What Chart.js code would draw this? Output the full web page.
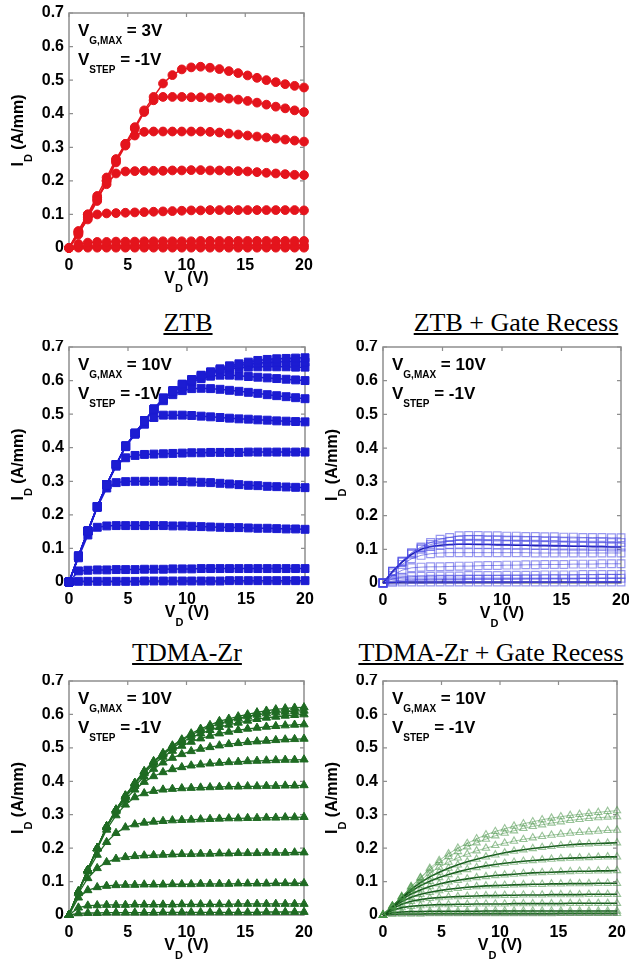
<!DOCTYPE html>
<html>
<head>
<meta charset="utf-8">
<script src="https://cdn.jsdelivr.net/npm/chart.js@4.4.0/dist/chart.umd.min.js"></script>
<style>
  body { margin: 0; background: #fff; }
  #page { position: relative; width: 629px; height: 961px; overflow: hidden; }
  canvas { position: absolute; }
  .title {
    position: absolute; width: 400px; text-align: center;
    font: 26px "Liberation Serif", "Times New Roman", serif; line-height: 26px;
    color: #000; text-decoration: underline; text-decoration-thickness: 1.5px;
    text-underline-offset: 2px; white-space: nowrap;
  }
</style>
</head>
<body>
<div id="page"></div>
<script>
// 漏极电压 (V)
const vd = [0, 0.8, 1.6, 2.4, 3.2, 4, 4.8, 5.6, 6.4, 7.2, 8, 8.8, 9.6, 10.4, 11.2, 12, 12.8, 13.6, 14.4, 15.2, 16, 16.8, 17.6, 18.4, 19.2, 20];
const xTicks = [0, 5, 10, 15, 20];
const yTicks = [0, 0.1, 0.2, 0.3, 0.4, 0.5, 0.6, 0.7];

const titles = ['', 'ZTB', 'ZTB + Gate Recess', 'TDMA-Zr', 'TDMA-Zr + Gate Recess'];
const vgMax = ['3V', '10V', '10V', '10V', '10V'];
const vStep = ['-1V', '-1V', '-1V', '-1V', '-1V'];

// 红色 (VG,MAX = 3V)
const redCurves = [
  [0,0.04,0.09,0.14,0.2,0.26,0.31,0.36,0.41,0.45,0.49,0.515,0.532,0.538,0.54,0.537,0.533,0.527,0.521,0.514,0.507,0.5,0.494,0.488,0.483,0.478],
  [0,0.045,0.095,0.145,0.2,0.255,0.305,0.355,0.405,0.44,0.45,0.45,0.45,0.449,0.449,0.448,0.447,0.445,0.442,0.438,0.433,0.427,0.421,0.416,0.41,0.405],
  [0,0.05,0.1,0.155,0.21,0.265,0.31,0.335,0.346,0.347,0.347,0.347,0.347,0.347,0.347,0.346,0.344,0.341,0.338,0.335,0.332,0.329,0.326,0.323,0.32,0.317],
  [0,0.05,0.1,0.15,0.19,0.222,0.228,0.229,0.23,0.23,0.23,0.231,0.231,0.232,0.232,0.231,0.231,0.23,0.229,0.228,0.226,0.224,0.222,0.22,0.218,0.217],
  [0,0.045,0.085,0.1,0.103,0.104,0.105,0.106,0.107,0.108,0.109,0.11,0.111,0.112,0.112,0.113,0.113,0.113,0.113,0.113,0.113,0.113,0.113,0.113,0.113,0.112],
  [0,0.012,0.016,0.018,0.018,0.019,0.019,0.019,0.02,0.02,0.02,0.02,0.02,0.02,0.021,0.021,0.021,0.021,0.021,0.021,0.021,0.021,0.021,0.021,0.021,0.021],
  [0,0.004,0.006,0.006,0.007,0.007,0.007,0.007,0.008,0.008,0.008,0.008,0.008,0.008,0.008,0.008,0.008,0.008,0.008,0.008,0.008,0.008,0.008,0.008,0.008,0.008],
  [0,0.001,0.001,0.001,0.001,0.001,0.001,0.001,0.001,0.001,0.001,0.001,0.001,0.001,0.001,0.001,0.001,0.001,0.001,0.001,0.001,0.001,0.001,0.001,0.001,0.001]
];

// ZTB
const ztbCurves = [
  [0,0.077,0.152,0.225,0.29,0.35,0.405,0.443,0.48,0.515,0.548,0.57,0.589,0.603,0.616,0.626,0.635,0.644,0.65,0.655,0.66,0.663,0.665,0.666,0.667,0.668],
  [0,0.077,0.152,0.225,0.29,0.35,0.405,0.443,0.48,0.515,0.548,0.57,0.589,0.603,0.615,0.625,0.633,0.64,0.645,0.649,0.652,0.654,0.655,0.656,0.656,0.655],
  [0,0.077,0.152,0.225,0.29,0.35,0.405,0.443,0.48,0.515,0.547,0.569,0.587,0.6,0.612,0.622,0.63,0.635,0.638,0.64,0.641,0.641,0.641,0.641,0.64,0.64],
  [0,0.077,0.152,0.225,0.29,0.35,0.405,0.443,0.48,0.515,0.545,0.566,0.582,0.596,0.606,0.613,0.616,0.616,0.614,0.612,0.61,0.608,0.606,0.604,0.602,0.6],
  [0,0.077,0.152,0.225,0.29,0.35,0.405,0.443,0.48,0.513,0.54,0.558,0.57,0.576,0.577,0.576,0.574,0.571,0.568,0.565,0.562,0.558,0.555,0.552,0.549,0.546],
  [0,0.077,0.152,0.225,0.29,0.35,0.403,0.44,0.47,0.49,0.497,0.497,0.497,0.496,0.494,0.492,0.49,0.488,0.486,0.485,0.483,0.482,0.48,0.479,0.478,0.477],
  [0,0.077,0.152,0.225,0.29,0.345,0.37,0.377,0.38,0.381,0.382,0.383,0.384,0.385,0.385,0.386,0.386,0.386,0.386,0.387,0.387,0.387,0.387,0.387,0.387,0.387],
  [0,0.075,0.15,0.222,0.28,0.296,0.299,0.3,0.3,0.3,0.3,0.3,0.299,0.298,0.297,0.296,0.294,0.292,0.29,0.288,0.287,0.285,0.284,0.283,0.282,0.281],
  [0,0.072,0.14,0.163,0.167,0.168,0.168,0.168,0.168,0.168,0.168,0.167,0.167,0.166,0.165,0.164,0.163,0.162,0.162,0.161,0.16,0.16,0.159,0.158,0.158,0.157],
  [0,0.033,0.035,0.036,0.036,0.037,0.037,0.037,0.038,0.038,0.038,0.039,0.039,0.039,0.04,0.04,0.04,0.04,0.04,0.04,0.04,0.04,0.04,0.04,0.04,0.04],
  [0,0.002,0.002,0.002,0.002,0.002,0.002,0.002,0.003,0.003,0.003,0.003,0.003,0.003,0.003,0.003,0.003,0.004,0.004,0.004,0.004,0.004,0.004,0.004,0.004,0.004]
];

// ZTB + Gate Recess
const ztbRecessCurves = [
  [0,0.035,0.065,0.09,0.107,0.12,0.13,0.135,0.14,0.141,0.141,0.14,0.14,0.139,0.139,0.138,0.138,0.137,0.137,0.136,0.136,0.135,0.135,0.135,0.134,0.134],
  [0,0.035,0.064,0.088,0.104,0.114,0.12,0.124,0.127,0.128,0.128,0.127,0.127,0.126,0.126,0.125,0.125,0.124,0.124,0.123,0.122,0.122,0.121,0.121,0.12,0.12],
  [0,0.034,0.062,0.085,0.1,0.108,0.112,0.114,0.115,0.115,0.114,0.114,0.113,0.113,0.112,0.112,0.111,0.111,0.11,0.11,0.109,0.109,0.108,0.108,0.107,0.107],
  [0,0.03,0.055,0.072,0.082,0.087,0.089,0.09,0.09,0.09,0.09,0.09,0.09,0.09,0.09,0.09,0.089,0.089,0.089,0.089,0.089,0.089,0.089,0.089,0.089,0.089],
  [0,0.022,0.038,0.045,0.047,0.048,0.048,0.049,0.05,0.05,0.051,0.052,0.052,0.053,0.053,0.054,0.054,0.055,0.055,0.055,0.056,0.056,0.056,0.057,0.057,0.057],
  [0,0.012,0.017,0.019,0.02,0.02,0.021,0.021,0.021,0.022,0.022,0.022,0.022,0.023,0.023,0.023,0.023,0.024,0.024,0.024,0.024,0.025,0.025,0.025,0.025,0.025],
  [0,0.006,0.009,0.01,0.01,0.011,0.011,0.011,0.011,0.012,0.012,0.012,0.012,0.012,0.012,0.013,0.013,0.013,0.013,0.013,0.013,0.013,0.013,0.014,0.014,0.014],
  [0,0.002,0.003,0.003,0.003,0.003,0.003,0.003,0.003,0.003,0.003,0.003,0.003,0.003,0.003,0.003,0.003,0.003,0.003,0.003,0.003,0.003,0.003,0.003,0.003,0.003]
];

// TDMA-Zr
const tdmaCurves = [
  [0,0.07,0.135,0.2,0.265,0.315,0.357,0.395,0.43,0.46,0.484,0.507,0.525,0.543,0.557,0.568,0.58,0.587,0.594,0.6,0.606,0.611,0.615,0.618,0.62,0.621],
  [0,0.07,0.135,0.2,0.265,0.315,0.357,0.395,0.43,0.459,0.483,0.505,0.522,0.539,0.552,0.563,0.573,0.581,0.588,0.594,0.599,0.603,0.606,0.608,0.61,0.611],
  [0,0.07,0.135,0.2,0.265,0.315,0.357,0.394,0.428,0.457,0.48,0.5,0.517,0.531,0.543,0.553,0.562,0.569,0.575,0.581,0.586,0.59,0.593,0.596,0.598,0.6],
  [0,0.07,0.135,0.2,0.265,0.315,0.356,0.392,0.424,0.451,0.473,0.491,0.506,0.518,0.528,0.536,0.543,0.548,0.553,0.557,0.56,0.563,0.565,0.567,0.569,0.57],
  [0,0.07,0.135,0.2,0.264,0.313,0.352,0.386,0.414,0.437,0.456,0.47,0.481,0.49,0.497,0.502,0.507,0.511,0.514,0.517,0.519,0.521,0.523,0.525,0.526,0.527],
  [0,0.07,0.135,0.2,0.262,0.31,0.345,0.375,0.398,0.415,0.427,0.436,0.442,0.447,0.45,0.453,0.455,0.457,0.458,0.46,0.461,0.462,0.463,0.464,0.464,0.465],
  [0,0.07,0.135,0.198,0.255,0.298,0.33,0.352,0.364,0.371,0.375,0.377,0.379,0.38,0.381,0.382,0.383,0.384,0.384,0.385,0.385,0.386,0.386,0.387,0.387,0.388],
  [0,0.07,0.13,0.18,0.218,0.245,0.262,0.271,0.276,0.279,0.281,0.283,0.284,0.285,0.286,0.287,0.288,0.289,0.289,0.29,0.29,0.291,0.291,0.292,0.292,0.293],
  [0,0.065,0.11,0.14,0.158,0.168,0.173,0.176,0.178,0.179,0.18,0.181,0.182,0.182,0.183,0.183,0.184,0.184,0.185,0.185,0.185,0.186,0.186,0.186,0.187,0.187],
  [0,0.052,0.074,0.083,0.087,0.089,0.09,0.09,0.091,0.091,0.091,0.092,0.092,0.092,0.093,0.093,0.093,0.093,0.094,0.094,0.094,0.094,0.095,0.095,0.095,0.095],
  [0,0.022,0.028,0.029,0.03,0.03,0.03,0.031,0.031,0.031,0.031,0.031,0.032,0.032,0.032,0.032,0.032,0.032,0.033,0.033,0.033,0.033,0.033,0.033,0.033,0.033],
  [0,0.005,0.006,0.006,0.007,0.007,0.007,0.007,0.007,0.007,0.008,0.008,0.008,0.008,0.008,0.008,0.008,0.008,0.008,0.008,0.008,0.009,0.009,0.009,0.009,0.009]
];

// TDMA-Zr + Gate Recess
const tdmaRecessCurves = [
  [0,0.027,0.055,0.085,0.112,0.14,0.163,0.183,0.2,0.214,0.228,0.24,0.25,0.258,0.266,0.273,0.279,0.285,0.29,0.294,0.298,0.301,0.304,0.307,0.31,0.312],
  [0,0.027,0.055,0.084,0.11,0.135,0.157,0.175,0.19,0.204,0.216,0.227,0.237,0.245,0.252,0.259,0.265,0.27,0.275,0.279,0.283,0.286,0.289,0.291,0.293,0.294],
  [0,0.027,0.054,0.08,0.104,0.125,0.143,0.158,0.171,0.182,0.192,0.2,0.208,0.215,0.221,0.226,0.231,0.235,0.239,0.242,0.245,0.247,0.249,0.251,0.253,0.254],
  [0,0.026,0.052,0.077,0.097,0.114,0.128,0.14,0.15,0.159,0.167,0.174,0.18,0.186,0.191,0.195,0.199,0.202,0.205,0.208,0.21,0.212,0.213,0.214,0.215,0.216],
  [0,0.025,0.05,0.071,0.088,0.101,0.112,0.121,0.129,0.136,0.142,0.147,0.151,0.155,0.158,0.161,0.163,0.165,0.167,0.169,0.17,0.171,0.172,0.173,0.174,0.174],
  [0,0.024,0.046,0.063,0.075,0.085,0.093,0.099,0.104,0.108,0.112,0.115,0.118,0.12,0.122,0.124,0.126,0.127,0.128,0.129,0.13,0.131,0.131,0.132,0.132,0.133],
  [0,0.022,0.04,0.053,0.062,0.068,0.073,0.077,0.08,0.083,0.085,0.087,0.088,0.089,0.09,0.091,0.092,0.092,0.093,0.093,0.094,0.094,0.094,0.095,0.095,0.095],
  [0,0.019,0.032,0.041,0.046,0.05,0.052,0.054,0.055,0.056,0.057,0.058,0.058,0.059,0.059,0.06,0.06,0.06,0.061,0.061,0.061,0.061,0.062,0.062,0.062,0.062],
  [0,0.014,0.022,0.026,0.028,0.03,0.031,0.031,0.032,0.032,0.033,0.033,0.033,0.033,0.034,0.034,0.034,0.034,0.034,0.034,0.035,0.035,0.035,0.035,0.035,0.035],
  [0,0.007,0.009,0.01,0.01,0.011,0.011,0.011,0.011,0.011,0.011,0.012,0.012,0.012,0.012,0.012,0.012,0.012,0.012,0.012,0.012,0.012,0.012,0.012,0.012,0.012],
  [0,0.002,0.003,0.003,0.003,0.004,0.004,0.004,0.004,0.004,0.004,0.004,0.004,0.004,0.004,0.004,0.004,0.004,0.004,0.005,0.005,0.005,0.005,0.005,0.005,0.005]
];

const FONT = '"Liberation Sans", Arial, sans-serif';

// 面板布局: box = 画布 [left, top, width, height], plot = 绘图区 [left, top, right, bottom]
const panels = [
  { curves: redCurves, box: [0, 0, 314, 300], plot: [69, 13, 304, 248],
    style: { shape: 'circle', r: 4.4, fill: '#e4141c', stroke: '#e4141c', bw: 1, line: '#e4141c', lw: 1.5 } },
  { curves: ztbCurves, box: [0, 340, 314, 296], plot: [69, 347, 305, 582],
    style: { shape: 'rect', r: 5.6, fill: '#1c1cd2', stroke: '#1c1cd2', bw: 1, line: '#1c1cd2', lw: 1.5 } },
  { curves: ztbRecessCurves, box: [314, 340, 315, 296], plot: [383, 347, 621, 583],
    style: { shape: 'rect', r: 5.5, fill: 'rgba(0,0,0,0)', stroke: 'rgba(70,70,228,0.55)', bw: 1.2,
             line: 'rgba(50,50,215,0.55)', lw: 1, dark: [2, 7], darkLine: 'rgb(25,25,175)' } },
  { curves: tdmaCurves, box: [0, 674, 314, 287], plot: [69, 681, 304, 915],
    style: { shape: 'triangle', r: 4.8, fill: '#1f6b23', stroke: '#1f6b23', bw: 1, line: '#1f6b23', lw: 1.3 } },
  { curves: tdmaRecessCurves, box: [314, 674, 315, 287], plot: [383, 681, 617, 915],
    style: { shape: 'triangle', r: 4.2, fill: 'rgba(0,0,0,0)', stroke: 'rgba(70,145,70,0.55)', bw: 1.1,
             line: 'rgba(70,145,70,0.5)', lw: 1, dark: [3, 4, 5, 6, 7, 8, 9, 10], darkLine: 'rgb(22,88,28)' } }
];

// 标题位置 (中心 x, 顶部 y)
const titlePos = [null, [188, 310], [516, 310], [187, 640], [491, 640]];

// 带下标的文字
function subText(ctx, x, y, main, sub, tail, big, small, drop) {
  ctx.font = 'bold ' + big + 'px ' + FONT;
  ctx.fillText(main, x, y);
  x += ctx.measureText(main).width;
  ctx.font = 'bold ' + small + 'px ' + FONT;
  ctx.fillText(sub, x, y + drop);
  x += ctx.measureText(sub).width;
  ctx.font = 'bold ' + big + 'px ' + FONT;
  ctx.fillText(tail, x, y);
}

function subWidth(ctx, main, sub, tail, big, small) {
  ctx.font = 'bold ' + big + 'px ' + FONT;
  let w = ctx.measureText(main).width + ctx.measureText(tail).width;
  ctx.font = 'bold ' + small + 'px ' + FONT;
  return w + ctx.measureText(sub).width;
}

const framePlugin = {
  id: 'frame',
  beforeDatasetsDraw(chart) {
    const { ctx, chartArea: a, scales: { x, y } } = chart;
    ctx.save();
    ctx.strokeStyle = '#8e8e8e';
    ctx.lineWidth = 1.5;
    ctx.strokeRect(a.left, a.top, a.right - a.left, a.bottom - a.top);
    ctx.lineWidth = 1.2;
    ctx.beginPath();
    xTicks.forEach(v => {
      const px = x.getPixelForValue(v);
      ctx.moveTo(px, a.bottom); ctx.lineTo(px, a.bottom - 4);
      ctx.moveTo(px, a.top); ctx.lineTo(px, a.top + 4);
    });
    yTicks.forEach(v => {
      const py = y.getPixelForValue(v);
      ctx.moveTo(a.left, py); ctx.lineTo(a.left + 4, py);
      ctx.moveTo(a.right, py); ctx.lineTo(a.right - 4, py);
    });
    ctx.stroke();
    ctx.restore();
  },
  afterDraw(chart, args, opts) {
    const { ctx, chartArea: a } = chart;
    ctx.save();
    ctx.fillStyle = '#000';
    ctx.textAlign = 'left';
    ctx.textBaseline = 'alphabetic';
    // 注释
    subText(ctx, a.left + 9, a.top + 23, 'V', 'G,MAX', ' = ' + vgMax[opts.idx], 17, 10, 8);
    subText(ctx, a.left + 9, a.top + 52, 'V', 'STEP', ' = ' + vStep[opts.idx], 17, 10, 8);
    // x 轴标题
    const wx = subWidth(ctx, 'V', 'D', ' (V)', 16, 11);
    subText(ctx, (a.left + a.right) / 2 - wx / 2, a.bottom + 35, 'V', 'D', ' (V)', 16, 11, 9);
    // y 轴标题
    const wy = subWidth(ctx, 'I', 'D', ' (A/mm)', 16, 11);
    ctx.translate(23, (a.top + a.bottom) / 2);
    ctx.rotate(-Math.PI / 2);
    subText(ctx, -wy / 2, 0, 'I', 'D', ' (A/mm)', 16, 11, 9);
    ctx.restore();
  }
};

const page = document.getElementById('page');

panels.forEach((p, idx) => {
  const [bl, bt, bw, bh] = p.box;
  const [pl, pt, pr, pb] = p.plot;
  const canvas = document.createElement('canvas');
  canvas.width = bw; canvas.height = bh;
  canvas.style.left = bl + 'px'; canvas.style.top = bt + 'px';
  canvas.style.width = bw + 'px'; canvas.style.height = bh + 'px';
  page.appendChild(canvas);

  const s = p.style;
  const datasets = p.curves.map((c, i) => {
    const dark = s.dark && s.dark.includes(i);
    return {
      data: vd.map((v, k) => ({ x: v, y: c[k] })),
      borderColor: dark ? s.darkLine : s.line,
      borderWidth: dark ? 1.6 : s.lw,
      pointStyle: s.shape,
      pointRadius: s.r,
      pointBackgroundColor: s.fill,
      pointBorderColor: s.stroke,
      pointBorderWidth: s.bw,
      tension: 0,
      clip: 6
    };
  });

  new Chart(canvas.getContext('2d'), {
    type: 'line',
    data: { datasets },
    options: {
      responsive: false,
      animation: false,
      events: [],
      layout: { padding: { left: 0, top: pt - bt, right: bl + bw - pr, bottom: 0 } },
      plugins: { legend: { display: false }, tooltip: { enabled: false }, frame: { idx } },
      scales: {
        x: {
          type: 'linear', min: 0, max: 20,
          grid: { display: false, drawTicks: false },
          border: { display: false },
          afterBuildTicks: sc => { sc.ticks = xTicks.map(v => ({ value: v })); },
          afterFit: sc => { sc.height = bt + bh - pb; sc.paddingLeft = 0; sc.paddingRight = 0; },
          ticks: { color: '#000', padding: 8, maxRotation: 0, font: { family: FONT, size: 16, weight: 'bold' },
                   callback: v => String(v) }
        },
        y: {
          type: 'linear', min: 0, max: 0.7,
          grid: { display: false, drawTicks: false },
          border: { display: false },
          afterBuildTicks: sc => { sc.ticks = yTicks.map(v => ({ value: v })); },
          afterFit: sc => { sc.width = pl - bl; sc.paddingTop = 0; sc.paddingBottom = 0; },
          ticks: { color: '#000', padding: 5, font: { family: FONT, size: 16, weight: 'bold' },
                   callback: v => (v === 0 ? '0' : v.toFixed(1)) }
        }
      }
    },
    plugins: [framePlugin]
  });

  if (titles[idx]) {
    const t = document.createElement('div');
    t.className = 'title';
    t.textContent = titles[idx];
    t.style.left = (titlePos[idx][0] - 200) + 'px';
    t.style.top = titlePos[idx][1] + 'px';
    page.appendChild(t);
  }
});
</script>
</body>
</html>
